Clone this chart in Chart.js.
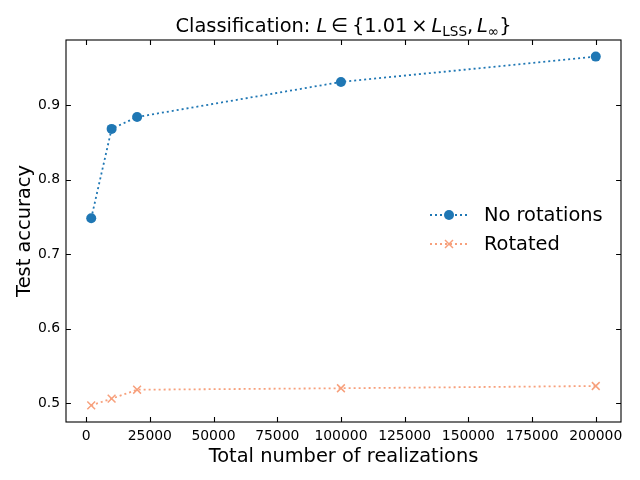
<!DOCTYPE html>
<html>
<head>
<meta charset="utf-8">
<script src="https://cdn.jsdelivr.net/npm/chart.js@4/dist/chart.umd.min.js"></script>
<style>
  body { margin: 0; background: #fff; }
  canvas { display: block; }
</style>
</head>
<body>
<canvas id="chart" width="640" height="480"></canvas>
<script>
// values
const realizations = [2000, 10000, 20000, 100000, 200000];
const noRotations = [0.748, 0.868, 0.884, 0.931, 0.965];
const rotated = [0.497, 0.506, 0.518, 0.520, 0.523];
const xTicks = [0, 25000, 50000, 75000, 100000, 125000, 150000, 175000, 200000];
const yTicks = [0.5, 0.6, 0.7, 0.8, 0.9];
const seriesNames = ['No rotations', 'Rotated'];

const BLUE = '#1f77b4';
const SALMON = '#f7a07c';
const FONT = '"DejaVu Sans", sans-serif';

const toPoints = (ys) => realizations.map((x, i) => ({ x: x, y: ys[i] }));

// title with the bits of math set in italic / subscript
const titleParts = [
  { t: 'Classification: ' },
  { t: 'L', it: true },
  { t: '\u2009\u2208\u2009{1.01\u2009\u00d7\u2009' },
  { t: 'L', it: true },
  { t: 'LSS', sub: true },
  { t: ',\u2009' },
  { t: 'L', it: true },
  { t: '\u221e', sub: true },
  { t: '}' }
];

const drawTitle = (ctx, cx, baseline) => {
  const size = 19.4;
  const fontFor = (p) => (p.it ? 'italic ' : '') + (p.sub ? size * 0.7 : size) + 'px ' + FONT;
  let total = 0;
  titleParts.forEach(p => { ctx.font = fontFor(p); total += ctx.measureText(p.t).width; });
  let x = cx - total / 2;
  ctx.textAlign = 'left';
  ctx.textBaseline = 'alphabetic';
  titleParts.forEach(p => {
    ctx.font = fontFor(p);
    ctx.fillText(p.t, x, baseline + (p.sub ? 4 : 0));
    x += ctx.measureText(p.t).width;
  });
};

const drawMarker = (ctx, style, x, y) => {
  ctx.save();
  if (style === 'circle') {
    ctx.fillStyle = BLUE;
    ctx.beginPath();
    ctx.arc(x, y, 5, 0, Math.PI * 2);
    ctx.fill();
  } else {
    ctx.strokeStyle = SALMON;
    ctx.lineWidth = 1.5;
    ctx.beginPath();
    ctx.moveTo(x - 4, y - 4); ctx.lineTo(x + 4, y + 4);
    ctx.moveTo(x + 4, y - 4); ctx.lineTo(x - 4, y + 4);
    ctx.stroke();
  }
  ctx.restore();
};

// frame, inward ticks on all four sides, title, axis labels and legend
const decorations = {
  id: 'decorations',
  afterDraw(chart) {
    const ctx = chart.ctx;
    const a = chart.chartArea;
    const xs = chart.scales.x, ys = chart.scales.y;
    const tl = 4.9;
    ctx.save();
    ctx.strokeStyle = '#000';
    ctx.lineWidth = 1.1;
    ctx.strokeRect(a.left, a.top, a.right - a.left, a.bottom - a.top);
    ctx.beginPath();
    xTicks.forEach(v => {
      const px = Math.round(xs.getPixelForValue(v)) + 0.5;
      ctx.moveTo(px, a.bottom); ctx.lineTo(px, a.bottom - tl);
      ctx.moveTo(px, a.top); ctx.lineTo(px, a.top + tl);
    });
    yTicks.forEach(v => {
      const py = Math.round(ys.getPixelForValue(v)) + 0.5;
      ctx.moveTo(a.left, py); ctx.lineTo(a.left + tl, py);
      ctx.moveTo(a.right, py); ctx.lineTo(a.right - tl, py);
    });
    ctx.stroke();

    ctx.fillStyle = '#000';
    drawTitle(ctx, (a.left + a.right) / 2, 32);

    ctx.font = '19.4px ' + FONT;
    ctx.textAlign = 'center';
    ctx.textBaseline = 'alphabetic';
    ctx.fillText('Total number of realizations', (a.left + a.right) / 2, 462);
    ctx.save();
    ctx.translate(30, (a.top + a.bottom) / 2);
    ctx.rotate(-Math.PI / 2);
    ctx.fillText('Test accuracy', 0, 0);
    ctx.restore();

    // legend
    const rows = [
      { name: seriesNames[0], color: BLUE, marker: 'circle', y: 215 },
      { name: seriesNames[1], color: SALMON, marker: 'cross', y: 244 }
    ];
    rows.forEach(r => {
      ctx.save();
      ctx.strokeStyle = r.color;
      ctx.lineWidth = 1.8;
      ctx.setLineDash([2, 3]);
      ctx.beginPath();
      ctx.moveTo(430, r.y); ctx.lineTo(469, r.y);
      ctx.stroke();
      ctx.restore();
      drawMarker(ctx, r.marker, 449, r.y);
      ctx.fillStyle = '#000';
      ctx.font = '19.4px ' + FONT;
      ctx.textAlign = 'left';
      ctx.textBaseline = 'middle';
      ctx.fillText(r.name, 484, r.y + 1);
    });
    ctx.restore();
  }
};

new Chart(document.getElementById('chart'), {
  type: 'line',
  data: {
    datasets: [
      {
        label: seriesNames[0],
        data: toPoints(noRotations),
        borderColor: BLUE,
        backgroundColor: BLUE,
        borderWidth: 1.8,
        borderDash: [2, 3],
        pointStyle: 'circle',
        pointRadius: 5,
        pointBorderWidth: 0,
        fill: false,
        tension: 0
      },
      {
        label: seriesNames[1],
        data: toPoints(rotated),
        borderColor: SALMON,
        backgroundColor: SALMON,
        borderWidth: 1.8,
        borderDash: [2, 3],
        pointStyle: 'crossRot',
        pointRadius: 5.5,
        pointBorderWidth: 1.5,
        fill: false,
        tension: 0
      }
    ]
  },
  options: {
    responsive: false,
    animation: false,
    devicePixelRatio: 1,
    layout: { padding: { top: 40, right: 19, left: 0, bottom: 0 } },
    plugins: {
      legend: { display: false },
      title: { display: false },
      tooltip: { enabled: false }
    },
    scales: {
      x: {
        type: 'linear',
        min: -7900,
        max: 209900,
        afterBuildTicks: (s) => { s.ticks = xTicks.map(v => ({ value: v })); },
        afterFit: (s) => { s.height = 58; },
        grid: { display: false, drawTicks: false },
        border: { display: false },
        ticks: {
          color: '#000',
          padding: 6,
          maxRotation: 0,
          autoSkip: false,
          font: { family: FONT, size: 13.9 },
          callback: (v) => String(v)
        }
      },
      y: {
        min: 0.4747,
        max: 0.9873,
        afterBuildTicks: (s) => { s.ticks = yTicks.map(v => ({ value: v })); },
        afterFit: (s) => { s.width = 66; },
        grid: { display: false, drawTicks: false },
        border: { display: false },
        ticks: {
          color: '#000',
          padding: 6,
          font: { family: FONT, size: 13.9 },
          callback: (v) => v.toFixed(1)
        }
      }
    }
  },
  plugins: [decorations]
});
</script>
</body>
</html>
